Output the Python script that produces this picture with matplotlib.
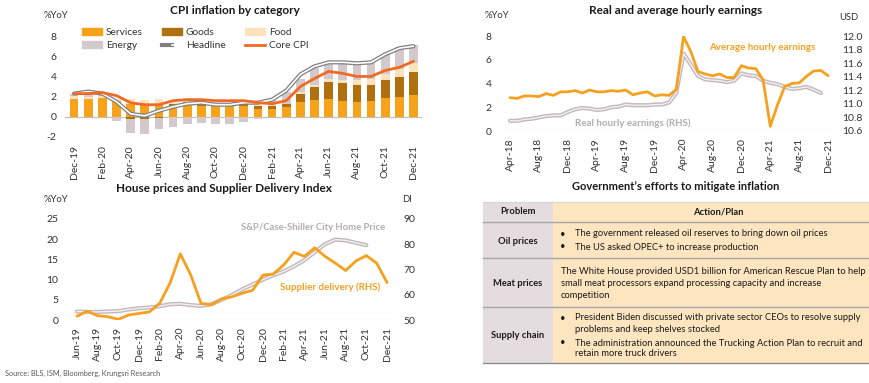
import numpy as np
import matplotlib
matplotlib.use("Agg")
import matplotlib.pyplot as plt
from matplotlib.lines import Line2D
from matplotlib.patches import Patch, Rectangle
from matplotlib.legend_handler import HandlerTuple

plt.rcParams['font.family'] = ['Lato', 'DejaVu Sans']
plt.rcParams['axes.unicode_minus'] = False

# ---------------- data: CPI by category (Dec-19 .. Dec-21) ----------------
cpi_ticklabels = ["Dec-19", "Feb-20", "Apr-20", "Jun-20", "Aug-20", "Oct-20", "Dec-20",
                  "Feb-21", "Apr-21", "Jun-21", "Aug-21", "Oct-21", "Dec-21"]
services = [1.75, 1.75, 1.85, 1.6, 1.3, 1.2, 1.2, 1.1, 1.2, 1.1, 1.05, 1.05, 1.05,
            0.8, 0.8, 1.0, 1.45, 1.65, 1.75, 1.6, 1.5, 1.6, 1.9, 2.0, 2.2]
goods = [-0.05, 0.0, 0.0, 0.0, -0.2, -0.2, -0.15, 0.2, 0.25, 0.3, 0.25, 0.25, 0.3,
         0.3, 0.25, 0.25, 0.85, 1.3, 1.75, 1.75, 1.7, 1.6, 1.7, 1.9, 2.2]
food = [0.3, 0.25, 0.25, 0.2, 0.5, 0.5, 0.6, 0.3, 0.45, 0.05, 0.05, 0.05, 0.05,
        0.05, 0.1, 0.05, 0.15, 0.2, 0.25, 0.3, 0.45, 0.5, 0.6, 0.8, 0.9]
energy = [0.25, 0.45, 0.2, -0.4, -1.4, -1.55, -1.05, -1.0, -0.7, -0.6, -0.7, -0.7, -0.5,
          -0.2, 0.5, 1.2, 1.3, 1.7, 1.6, 1.7, 1.6, 1.7, 2.0, 2.2, 1.8]
headline = [2.3, 2.5, 2.3, 1.5, 0.3, 0.1, 0.6, 1.0, 1.3, 1.4, 1.2, 1.2, 1.4,
            1.4, 1.7, 2.6, 4.2, 5.0, 5.4, 5.4, 5.3, 5.4, 6.2, 6.8, 7.0]
core = [2.3, 2.3, 2.4, 2.1, 1.4, 1.2, 1.2, 1.6, 1.7, 1.7, 1.6, 1.6, 1.6,
        1.4, 1.3, 1.6, 3.0, 3.8, 4.5, 4.3, 4.0, 4.0, 4.6, 4.9, 5.5]

# ---------------- data: hourly earnings (Apr-18 .. Dec-21) ----------------
earn_ticklabels = ["Apr-18", "Aug-18", "Dec-18", "Apr-19", "Aug-19", "Dec-19",
                   "Apr-20", "Aug-20", "Dec-20", "Apr-21", "Aug-21", "Dec-21"]
avg_hourly = [2.8, 2.75, 2.95, 2.95, 2.9, 3.15, 3.0, 3.3, 3.3, 3.4, 3.2, 3.45,
              3.3, 3.3, 3.4, 3.35, 3.45, 3.05, 3.2, 3.3, 2.95, 3.05, 3.0, 3.5,
              7.95, 6.7, 5.0, 4.8, 4.65, 4.8, 4.5, 4.5, 5.5, 5.3, 5.25, 4.3,
              0.4, 2.2, 3.75, 4.0, 4.05, 4.6, 5.05, 5.1, 4.65]
real_hourly = [10.75, 10.75, 10.77, 10.78, 10.80, 10.82, 10.83, 10.83, 10.88, 10.92, 10.94, 10.93,
               10.91, 10.92, 10.95, 10.96, 10.99, 10.98, 10.98, 10.98, 10.99, 10.99, 11.02, 11.16,
               11.74, 11.58, 11.41, 11.36, 11.35, 11.34, 11.32, 11.34, 11.45, 11.42, 11.41, 11.34,
               11.31, 11.29, 11.25, 11.22, 11.23, 11.25, 11.21, 11.16, np.nan]

# ---------------- data: house prices & supplier deliveries (Jun-19 .. Dec-21) ----------------
house_ticklabels = ["Jun-19", "Aug-19", "Oct-19", "Dec-19", "Feb-20", "Apr-20", "Jun-20", "Aug-20",
                    "Oct-20", "Dec-20", "Feb-21", "Apr-21", "Jun-21", "Aug-21", "Oct-21", "Dec-21"]
home_price = [2.1, 2.0, 2.0, 2.1, 2.2, 2.6, 2.9, 3.1, 3.4, 3.9, 4.0, 3.7, 3.5, 3.9, 5.0, 6.2,
              7.6, 8.8, 10.0, 11.1, 12.0, 13.3, 14.8, 16.8, 18.8, 19.9, 19.7, 19.1, 18.5,
              np.nan, np.nan]
supplier = [51.5, 53.5, 51.7, 51.3, 50.3, 52.0, 52.6, 53.2, 56.6, 64.6, 76.2, 67.9, 56.6, 56.0,
            58.4, 59.2, 60.6, 61.8, 67.8, 68.2, 71.8, 76.8, 75.2, 78.6, 75.2, 72.5, 69.6,
            73.4, 75.5, 72.5, 64.8]

# ---------------- data: table ----------------
tbl_header = ["Problem", "Action/Plan"]
tbl_problems = ["Oil prices", "Meat prices", "Supply chain"]
tbl_actions = [
    [("•", "The government released oil reserves to bring down oil prices"),
     ("•", "The US asked OPEC+ to increase production")],
    [("", "The White House provided USD1 billion for American Rescue Plan to help"),
     ("", "small meat processors expand processing capacity and increase"),
     ("", "competition")],
    [("•", "President Biden discussed with private sector CEOs to resolve supply"),
     ("", "problems and keep shelves stocked"),
     ("•", "The administration announced the Trucking Action Plan to recruit and"),
     ("", "retain more truck drivers")],
]

# ---------------- styling ----------------
C_SERV = "#F7A21B"
C_GOODS = "#B0700F"
C_FOOD = "#FCE3BD"
C_ENERGY = "#D3C8CB"
C_CORE = "#F26A22"
C_ORANGE = "#F5A01E"
C_GRAYLINE = "#C3B8BC"
C_TXT = "#333333"
TICK_FS = 7.5

W, H = 870, 383
fig = plt.figure(figsize=(W / 100, H / 100), dpi=100)


def px_axes(l, t, r, b):
    return fig.add_axes([l / W, 1 - b / H, (r - l) / W, (b - t) / H])


def clean(ax):
    for s in ax.spines.values():
        s.set_visible(False)
    ax.tick_params(length=0, labelsize=TICK_FS, colors=C_TXT)
    ax.set_facecolor("none")


# overlay for titles / table
ov = fig.add_axes([0, 0, 1, 1])
ov.set_xlim(0, W)
ov.set_ylim(H, 0)
ov.axis("off")

# ================= Panel 1: CPI =================
ax1 = px_axes(65, 26, 422, 137)
clean(ax1)
x1 = np.arange(len(services))
pos = np.zeros(len(x1))
neg = np.zeros(len(x1))
for vals, col in [(services, C_SERV), (goods, C_GOODS), (food, C_FOOD), (energy, C_ENERGY)]:
    v = np.array(vals, dtype=float)
    base = np.where(v >= 0, pos, neg)
    ax1.bar(x1, v, bottom=base, width=0.62, color=col, zorder=2)
    pos += np.where(v > 0, v, 0)
    neg += np.where(v < 0, v, 0)
ax1.axhline(0, color="#BFBFBF", lw=0.8, zorder=1)
ax1.plot(x1, headline, color="#808080", lw=3.0, zorder=3, solid_capstyle="round")
ax1.plot(x1, headline, color="white", lw=1.2, zorder=4, solid_capstyle="round")
ax1.plot(x1, core, color=C_CORE, lw=2.0, zorder=5, solid_capstyle="round")
ax1.set_xlim(-0.64, 24.6)
ax1.set_ylim(-2, 9)
ax1.set_yticks([-2, 0, 2, 4, 6, 8])
ax1.set_xticks(x1[::2])
ax1.set_xticklabels(cpi_ticklabels, rotation=90)
ax1.tick_params(axis="x", pad=6)
ax1.tick_params(axis="y", pad=6)

h_serv = Patch(color=C_SERV)
h_goods = Patch(color=C_GOODS)
h_food = Patch(color=C_FOOD)
h_energy = Patch(color=C_ENERGY)
h_head = (Line2D([], [], color="#808080", lw=3.0), Line2D([], [], color="white", lw=1.2))
h_core = Line2D([], [], color=C_CORE, lw=2.0)
ax1.legend([h_serv, h_energy, h_goods, h_head, h_food, h_core],
           ["Services", "Energy", "Goods", "Headline", "Food", "Core CPI"],
           ncol=3, loc="upper left", bbox_to_anchor=(82 / W, 1 - 28 / H),
           bbox_transform=fig.transFigure, frameon=False, fontsize=7.3,
           handlelength=2.0, handletextpad=0.35, columnspacing=1.9,
           labelspacing=0.4, borderpad=0, borderaxespad=0,
           handler_map={tuple: HandlerTuple(ndivide=None)}, labelcolor=C_TXT)

ov.text(235, 11, "CPI inflation by category", ha="center", va="center",
        fontsize=8.5, fontweight="bold", color="#1a1a1a")
ov.text(56, 16, "%YoY", ha="center", va="center", fontsize=6.8, color=C_TXT)

# ================= Panel 2: earnings =================
ax2 = px_axes(503, 36, 835, 131)
clean(ax2)
x2 = np.arange(len(avg_hourly))
ax2r = ax2.twinx()
clean(ax2r)
ax2r.plot(x2, real_hourly, color=C_GRAYLINE, lw=3.0, solid_capstyle="round")
ax2r.plot(x2, real_hourly, color="#F4F0F1", lw=1.0, solid_capstyle="round")
ax2r.set_ylim(10.6, 12.0)
ax2r.set_yticks(np.round(np.arange(10.6, 12.01, 0.2), 1))
ax2r.set_yticklabels([f"{v:.1f}" for v in np.arange(10.6, 12.01, 0.2)])
ax2r.tick_params(axis="y", pad=5)
ax2.set_zorder(ax2r.get_zorder() + 1)
ax2.plot(x2, avg_hourly, color=C_ORANGE, lw=2.0, solid_capstyle="round")
ax2.axhline(0, color="#BFBFBF", lw=0.8)
ax2.set_ylim(0, 8)
ax2.set_yticks([0, 2, 4, 6, 8])
ax2.set_xlim(-0.97, 44.95)
ax2.set_xticks(x2[::4])
ax2.set_xticklabels(earn_ticklabels, rotation=90)
ax2.tick_params(axis="x", pad=5)
ax2.tick_params(axis="y", pad=8)
ax2.text(34.9, 7.07, "Average hourly earnings", ha="center", va="center",
         fontsize=7, fontweight="bold", color=C_ORANGE)
ax2.text(17.0, 0.67, "Real hourly earnings (RHS)", ha="center", va="center",
         fontsize=7, fontweight="bold", color="#B5ABAE")

ov.text(676, 10, "Real and average hourly earnings", ha="center", va="center",
        fontsize=8.5, fontweight="bold", color="#1a1a1a")
ov.text(497, 16, "%YoY", ha="center", va="center", fontsize=6.8, color=C_TXT)
ov.text(849, 17, "USD", ha="center", va="center", fontsize=6.8, color=C_TXT)

# ================= Panel 3: house prices =================
ax3 = px_axes(68, 219, 395, 320)
clean(ax3)
x3 = np.arange(len(supplier))
ax3r = ax3.twinx()
clean(ax3r)
ax3.plot(x3, home_price, color=C_GRAYLINE, lw=3.0, solid_capstyle="round")
ax3.plot(x3, home_price, color="#F4F0F1", lw=1.0, solid_capstyle="round")
ax3.axhline(0, color="#BFBFBF", lw=0.8)
ax3.set_ylim(0, 25)
ax3.set_yticks([0, 5, 10, 15, 20, 25])
ax3.set_xlim(-0.87, 30.77)
ax3.set_xticks(x3[::2])
ax3.set_xticklabels(house_ticklabels, rotation=90)
ax3.tick_params(axis="x", pad=5)
ax3.tick_params(axis="y", pad=7)
ax3r.plot(x3, supplier, color=C_ORANGE, lw=2.0, solid_capstyle="round")
ax3r.set_ylim(50, 90)
ax3r.set_yticks([50, 60, 70, 80, 90])
ax3r.tick_params(axis="y", pad=6)
ax3r.text(24.5, 63.1, "Supplier delivery (RHS)", ha="center", va="center",
          fontsize=7, fontweight="bold", color=C_ORANGE)
ax3.text(29.8, 22.8, "S&P/Case-Shiller City Home Price", ha="right", va="center",
         fontsize=6.8, fontweight="bold", color="#B5ABAE")

ov.text(224, 188, "House prices and Supplier Delivery Index", ha="center", va="center",
        fontsize=8.5, fontweight="bold", color="#1a1a1a")
ov.text(56, 199, "%YoY", ha="center", va="center", fontsize=6.8, color=C_TXT)
ov.text(407, 199, "DI", ha="center", va="center", fontsize=6.8, color=C_TXT)
ov.text(5, 373, "Source: BLS, ISM, Bloomberg, Krungsri Research", ha="left", va="center",
        fontsize=5.3, color="#595959")

# ================= Panel 4: table =================
ov.text(676, 187, "Government\u2019s efforts to mitigate inflation", ha="center", va="center",
        fontsize=8.0, fontweight="bold", color="#1a1a1a")
tl, tm, tr = 483, 553, 869
row_y = [202, 222, 258, 307, 363]
ov.add_patch(Rectangle((tl, row_y[0]), tm - tl, row_y[-1] - row_y[0], color="#E5DCDF", lw=0))
ov.add_patch(Rectangle((tm, row_y[0]), tr - tm, row_y[-1] - row_y[0], color="#FDE5C0", lw=0))
ov.plot([tl, tr], [row_y[0], row_y[0]], color="#D5D5D5", lw=0.8)
for yy in row_y[1:-1]:
    ov.plot([tl, tr], [yy, yy], color="#A6A6A6", lw=1.0)
ov.plot([tl, tr], [row_y[-1], row_y[-1]], color="#8C8C8C", lw=1.0)

TFS = 6.75
ov.text((tl + tm) / 2, 212, tbl_header[0], ha="center", va="center", fontsize=TFS,
        fontweight="bold", color="#1a1a1a")
ov.text(718, 212, tbl_header[1], ha="center", va="center", fontsize=TFS,
        fontweight="bold", color="#1a1a1a")
prob_y = [241, 283, 336]
line_y = [[234, 247], [271, 283, 296], [318, 329, 343, 354]]
for p, py, acts, ly in zip(tbl_problems, prob_y, tbl_actions, line_y):
    ov.text((tl + tm) / 2, py, p, ha="center", va="center", fontsize=TFS,
            fontweight="bold", color="#1a1a1a")
    has_bullets = any(b for b, _ in acts)
    for (bul, txt), yy in zip(acts, ly):
        if bul:
            ov.text(563, yy, bul, ha="center", va="center", fontsize=TFS, color="#1a1a1a")
        xt = 575 if has_bullets else 561
        ov.text(xt, yy, txt, ha="left", va="center", fontsize=TFS, color="#1a1a1a")

fig.savefig("out.png", dpi=100)
